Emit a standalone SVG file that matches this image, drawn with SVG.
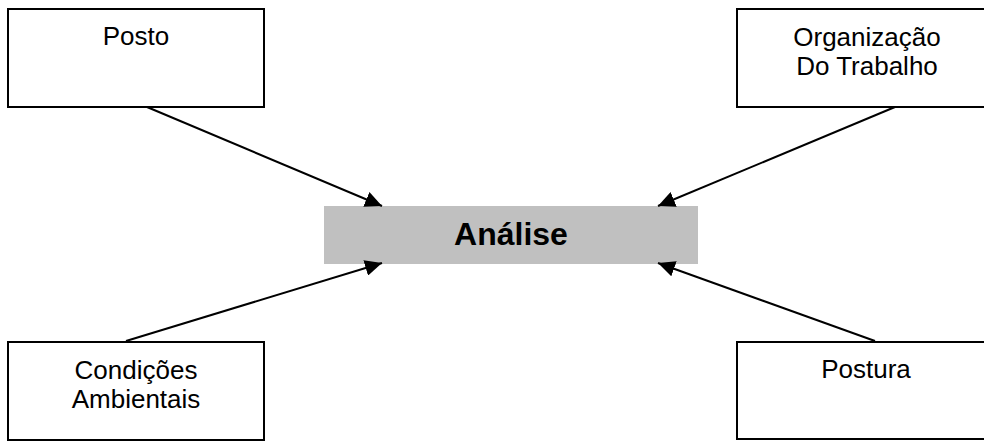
<svg xmlns="http://www.w3.org/2000/svg" width="984" height="441" viewBox="0 0 984 441">
  <style>
    .box { fill: #ffffff; stroke: #000000; stroke-width: 2; }
    .label { font-family: "Liberation Sans", Arial, sans-serif; font-size: 26px; fill: #000000; text-anchor: middle; }
    .center { fill: #c0c0c0; stroke: none; }
    .title { font-family: "Liberation Sans", Arial, sans-serif; font-size: 32px; font-weight: bold; fill: #000000; text-anchor: middle; }
    .link { stroke: #000000; stroke-width: 2; fill: none; marker-end: url(#arrow); }
  </style>
  <defs>
    <marker id="arrow" markerUnits="userSpaceOnUse" markerWidth="18" markerHeight="16" refX="17" refY="8" orient="auto">
      <path d="M0,0 L17,8 L0,16 z" fill="#000000"/>
    </marker>
  </defs>
  <rect x="0" y="0" width="984" height="441" fill="#ffffff"/>

  <g id="posto">
    <rect class="box" x="8" y="9" width="256" height="98"/>
    <text class="label" x="136" y="45">Posto</text>
  </g>

  <g id="organizacao">
    <rect class="box" x="737" y="9" width="260" height="98"/>
    <text class="label" x="867" y="46">Organização</text>
    <text class="label" x="867" y="75">Do Trabalho</text>
  </g>

  <g id="condicoes">
    <rect class="box" x="8" y="342" width="256" height="98"/>
    <text class="label" x="136" y="379">Condições</text>
    <text class="label" x="136" y="408">Ambientais</text>
  </g>

  <g id="postura">
    <rect class="box" x="737" y="342" width="260" height="97"/>
    <text class="label" x="866" y="378">Postura</text>
  </g>

  <g id="analise">
    <rect class="center" x="324" y="206" width="374" height="58"/>
    <text class="title" x="511" y="245">Análise</text>
  </g>

  <g id="connectors">
    <line class="link" x1="147" y1="107" x2="382" y2="206"/>
    <line class="link" x1="895" y1="107" x2="658" y2="206"/>
    <line class="link" x1="126" y1="341" x2="382" y2="263"/>
    <line class="link" x1="875" y1="341" x2="658" y2="263"/>
  </g>
</svg>
